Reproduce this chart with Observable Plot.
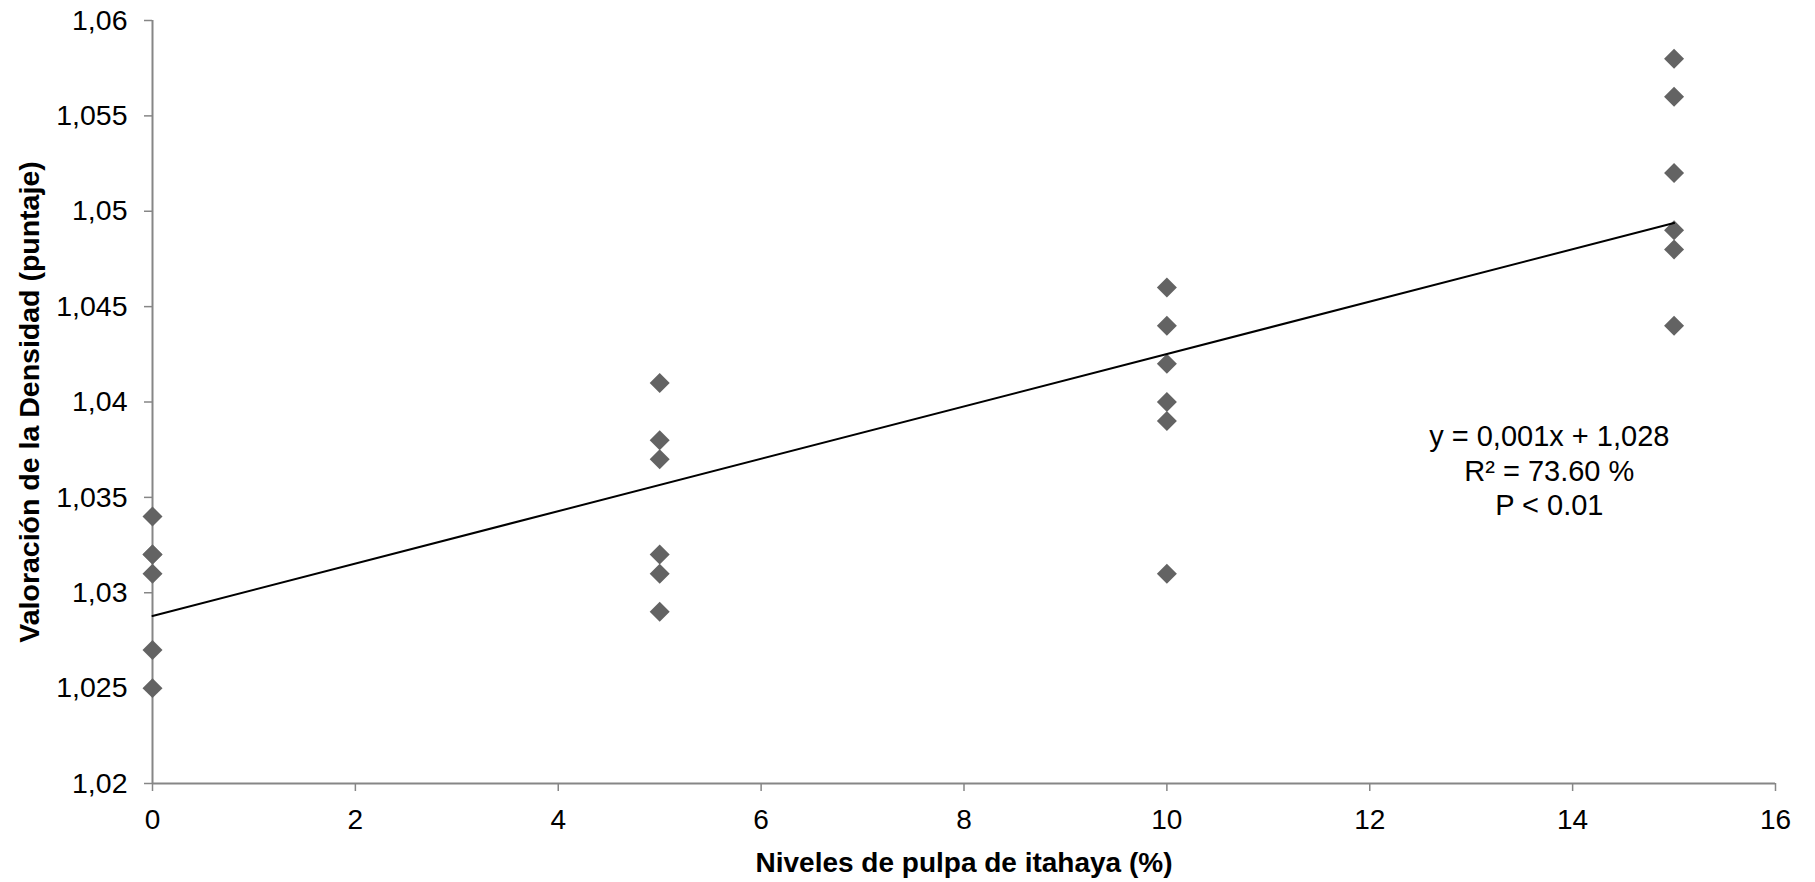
<!DOCTYPE html>
<html>
<head>
<meta charset="utf-8">
<script src="https://cdn.jsdelivr.net/npm/d3@7"></script>
<script src="https://cdn.jsdelivr.net/npm/@observablehq/plot@0.6"></script>
<style>
  html, body { margin: 0; padding: 0; background: #ffffff; }
  #chart svg { display: block; }
</style>
</head>
<body>
<div id="chart"></div>
<script>
// Density scores measured at each level of itahaya pulp (%)
const pulpLevels = [0, 5, 10, 15];
const density0  = [1.034, 1.032, 1.032, 1.031, 1.027, 1.025];
const density5  = [1.041, 1.038, 1.037, 1.032, 1.031, 1.029];
const density10 = [1.046, 1.044, 1.042, 1.040, 1.039, 1.031];
const density15 = [1.058, 1.056, 1.052, 1.049, 1.048, 1.044];

// Axis ticks
const xTicks = [0, 2, 4, 6, 8, 10, 12, 14, 16];
const yTicks = [1.02, 1.025, 1.03, 1.035, 1.04, 1.045, 1.05, 1.055, 1.06];

// Text
const xTitle = "Niveles de pulpa de itahaya (%)";
const yTitle = "Valoración de la Densidad (puntaje)";
const statsLines = ["y = 0,001x + 1,028", "R² = 73.60 %", "P < 0.01"];

const groups = [density0, density5, density10, density15];
const points = groups.flatMap((vals, i) => vals.map(v => ({level: pulpLevels[i], density: v})));

const xDomain = [xTicks[0], xTicks[xTicks.length - 1]];
const yDomain = [yTicks[0], yTicks[yTicks.length - 1]];
const axisGray = "#868686";
const decimalComma = d => String(d).replace(".", ",");

const chart = Plot.plot({
  width: 1815,
  height: 882,
  marginLeft: 152,
  marginRight: 40,
  marginTop: 20,
  marginBottom: 99,
  style: {fontFamily: "'Liberation Sans', Arial, sans-serif", color: "#000", background: "#fff"},
  x: {domain: xDomain},
  y: {domain: yDomain},
  marks: [
    Plot.axisX({ticks: xTicks, tickSize: 8, tickPadding: 18, fontSize: 28, stroke: axisGray, strokeWidth: 1.5, label: null}),
    Plot.axisY({ticks: yTicks, tickSize: 8, tickPadding: 17, fontSize: 28.5, stroke: axisGray, strokeWidth: 1.5, tickFormat: decimalComma, label: null}),
    Plot.ruleX([xDomain[0]], {stroke: axisGray, strokeWidth: 2}),
    Plot.ruleY([yDomain[0]], {stroke: axisGray, strokeWidth: 2}),
    Plot.dot(points, {x: "level", y: "density", symbol: "diamond2", r: 9, fill: "#636363"}),
    Plot.linearRegressionY(points, {x: "level", y: "density", ci: 0, stroke: "#000", strokeWidth: 2}),
    Plot.text([statsLines.join("\n")], {x: 13.77, y: 1.03645, fontSize: 29, lineHeight: 1.18, textAnchor: "middle", lineAnchor: "middle", fill: "#000"}),
    Plot.text([xTitle], {frameAnchor: "bottom", dy: 80, fontSize: 28, fontWeight: "bold", textAnchor: "middle", lineAnchor: "middle", fill: "#000"}),
    Plot.text([yTitle], {frameAnchor: "left", dx: -123, rotate: -90, fontSize: 28.5, fontWeight: "bold", textAnchor: "middle", lineAnchor: "middle", fill: "#000"})
  ]
});

document.getElementById("chart").appendChild(chart);
</script>
</body>
</html>
